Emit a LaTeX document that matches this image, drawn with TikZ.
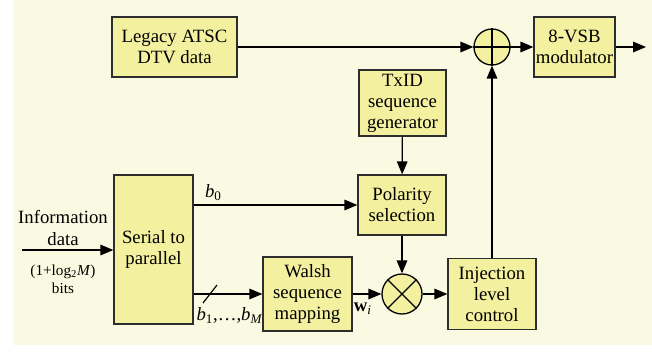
\documentclass[tikz,border=0pt]{standalone}
\usepackage{fontspec}
\setmainfont{Liberation Serif}
\usetikzlibrary{arrows.meta,positioning}

\definecolor{bgyellow}{RGB}{250,250,226}
\definecolor{boxyellow}{RGB}{243,240,160}
\definecolor{boxline}{RGB}{45,45,45}

\begin{document}
\begin{tikzpicture}[x=0.03cm,y=-0.03cm,>={Triangle[length=11pt,width=9pt]},
 line width=1pt,
 every node/.style={font=\fontsize{16}{18}\selectfont},
 block/.style={draw=boxline,fill=boxyellow,line width=1.1pt,align=center,inner sep=0pt},
 junction/.style={circle,draw=black,fill=boxyellow,line width=1.1pt,inner sep=0pt},
 small/.style={font=\fontsize{13}{15}\selectfont,align=center}]
 \useasboundingbox (0,0) rectangle (652,351);
 \fill[bgyellow] (13,0) rectangle (652,345);

 \node[block,minimum width=3.75cm,minimum height=1.8cm] (legacy) at (174.5,47) {Legacy ATSC\\DTV data};
 \node[junction,minimum size=1.08cm] (sum) at (492,47) {};
 \node[block,minimum width=2.43cm,minimum height=1.8cm] (vsb) at (574.5,47) {8-VSB\\modulator};
 \node[block,minimum width=2.61cm,minimum height=1.98cm] (txid) at (402.5,103) {TxID\\sequence\\generator};
 \node[block,minimum width=2.64cm,minimum height=1.8cm] (pol) at (402,205) {Polarity\\selection};
 \node[block,minimum width=2.37cm,minimum height=4.47cm] (s2p) at (153.5,249.5) {Serial to\\parallel};
 \node[block,minimum width=2.67cm,minimum height=2.22cm] (walsh) at (307.5,294) {Walsh\\sequence\\mapping};
 \node[junction,minimum size=1.2cm] (mult) at (402,294) {};
 \node[block,minimum width=2.64cm,minimum height=2.13cm] (inj) at (492,294) {Injection\\level\\control};

 \coordinate (in) at (22,250);
 \coordinate (out) at (646,47);

 % symbols inside the circles
 \draw (sum.north) -- (sum.south) (sum.west) -- (sum.east);
 \draw (mult.45) -- (mult.225) (mult.135) -- (mult.315);

 \node[align=center] (infolabel) at (63,228) {Information\\data};
 \node[small] (bitslabel) at (63,279) {(1+log\textsubscript{2}\textit{M})\\bits};

 \path[->]
 (in) edge (s2p.west |- in)
 (legacy) edge (sum)
 (sum) edge (vsb)
 (vsb) edge (out)
 (txid) edge (pol)
 (s2p.east |- pol) edge node[above,pos=0.12] {\textit{b}\textsubscript{0}} (pol)
 (s2p.east |- walsh) edge (walsh)
 (walsh) edge node[below,pos=0.35,yshift=-4pt] {\textbf{w}\textsubscript{\textit{i}}} (mult)
 (pol) edge (mult)
 (mult) edge (inj)
 (inj) edge (sum);

 % bus slash and its label
 \draw ([shift={(210,294)}]-7,9) -- ++(14,-18);
 \node[anchor=north west,inner sep=1pt] (buslabel) at ([xshift=1pt,yshift=-10pt]s2p.east |- walsh) {\textit{b}\textsubscript{1},\ldots,\textit{b}\textsubscript{\textit{M}}};
\end{tikzpicture}
\end{document}
